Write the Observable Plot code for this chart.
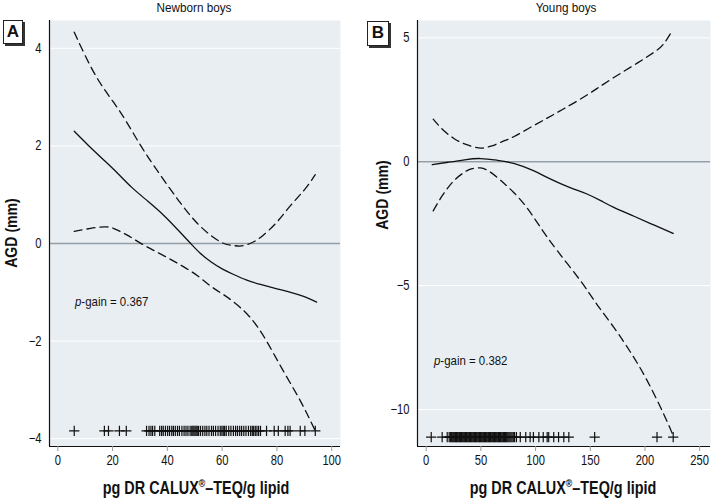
<!DOCTYPE html>
<html><head><meta charset="utf-8">
<script src="https://cdn.jsdelivr.net/npm/d3@7"></script>
<script src="https://cdn.jsdelivr.net/npm/@observablehq/plot@0.6"></script>
<style>
body{margin:0;background:#fff;}
#wrap{position:relative;width:715px;height:502px;font-family:"Liberation Sans",Arial,sans-serif;color:#111;}
.abs{position:absolute;white-space:nowrap;line-height:1;}
.ttl{font-size:13px;transform:translateX(-50%) scaleX(0.9);}
.xt{font-size:18px;font-weight:bold;transform:translateX(-50%) scaleX(0.8);}
.yt{font-size:16px;font-weight:bold;transform:translate(-50%,-50%) rotate(-90deg) scaleX(0.88);}
.pg{font-size:13px;transform:scaleX(0.88);transform-origin:left center;}
.box{position:absolute;background:#fff;border:1px solid #222;box-shadow:2px 2px 0 #333;font-family:"Liberation Sans",Arial,sans-serif;font-weight:bold;font-size:17px;text-align:center;line-height:22px;}
svg{position:absolute;top:0;}
</style></head>
<body><div id="wrap"></div>
<script>
// Panel A: Newborn boys
const fitAx = [6,11,17,22,27,33,39,44,48.5,52,56,60,64,69,74,80,85,90,94.5];
const fitAy = [2.30,2.02,1.70,1.43,1.15,0.86,0.56,0.27,0,-0.20,-0.38,-0.52,-0.63,-0.75,-0.84,-0.93,-1.00,-1.09,-1.20];
const upAx = [6,10,15,20.4,25,30,35,41,46,51,56,60.6,64,67,71,75,80,85,90,94];
const upAy = [4.33,3.85,3.33,2.89,2.50,2.03,1.60,1.12,0.74,0.41,0.16,0.0,-0.04,-0.05,0.02,0.17,0.44,0.78,1.10,1.41];
const loAx = [6,12,18,22,26,31,36,41,46,51,56,60,64,70,76,82,88.5,94];
const loAy = [0.25,0.31,0.34,0.27,0.15,-0.02,-0.17,-0.32,-0.48,-0.66,-0.88,-1.03,-1.19,-1.50,-1.98,-2.58,-3.22,-3.84];
const rugA = [6,17,18.5,22.5,25,32.4,33.3,34.0,34.6,35.4,37.2,37.9,38.5,39.3,40.1,40.8,41.6,42.2,42.9,43.7,44.4,45.3,46.1,46.8,47.5,48.3,48.9,49.3,49.7,50.1,50.5,50.9,51.4,52.1,52.9,53.7,54.4,55.2,56.1,56.8,57.6,58.5,59.3,59.9,60.4,60.9,61.5,62.4,63.2,64.1,64.9,65.6,66.4,67.1,67.9,68.7,69.6,70.4,71.0,71.5,72.1,72.7,73.3,74,76.2,79,80.5,83,84,84.8,88.5,90.2,94];
const rugAy = -3.84;
const ticksAx = [0,20,40,60,80,100];
const ticksAy = [-4,-2,0,2,4];

// Panel B: Young boys
const fitBx = [5.5,20,35,49.6,65,80,98,110,122.8,135,147,160,171.5,190,208,225.8];
const fitBy = [-0.12,-0.02,0.08,0.13,0.06,-0.07,-0.36,-0.62,-0.88,-1.10,-1.30,-1.58,-1.84,-2.2,-2.55,-2.89];
const upBx = [6.4,15,25,35,45,51.2,60,70,80,95,110.6,125,141,156,171.5,190,208,217,225.4];
const upBy = [1.72,1.30,0.95,0.72,0.58,0.55,0.64,0.82,1.01,1.38,1.76,2.12,2.53,2.95,3.40,3.90,4.41,4.75,5.32];
const loBx = [6.4,15,25,35,42,49.6,58,68,80,92,104.5,120,141,156,171.5,187,202,217,225.8];
const loBy = [-1.98,-1.35,-0.78,-0.42,-0.28,-0.25,-0.40,-0.75,-1.24,-1.85,-2.65,-3.6,-4.8,-5.75,-6.68,-7.7,-8.83,-10.17,-11.05];
const rugB = [4.6,14.6,19.2,21.0,22.1,23.0,23.8,24.6,25.3,26.1,26.9,27.6,28.4,29.1,29.9,30.6,31.4,32.2,32.9,33.7,34.4,35.2,35.9,36.7,37.5,38.2,39.0,39.7,40.5,41.2,42.0,42.8,43.5,44.3,45.0,45.8,46.5,47.3,48.1,48.8,49.6,50.3,51.1,51.8,52.6,53.4,54.1,54.9,55.6,56.4,57.1,57.9,58.7,59.4,60.2,60.9,61.7,62.4,63.2,64.0,64.7,65.5,66.2,67.0,67.8,68.5,69.3,70.1,70.8,71.6,72.4,73.2,74.0,74.8,75.7,76.6,77.5,78.5,79.6,80.8,82.5,86,91,95,98,103,107,110.6,112,116.6,121,125.8,130.4,154,211,225.8];
const rugBy = -11.11;
const ticksBx = [0,50,100,150,200,250];
const ticksBy = [-10,-5,0,5];

const BG = "#e9eef3";
const FONT = '"Liberation Sans",Arial,sans-serif';

function pts(xs, ys){ return xs.map((x,i)=>({x, y: ys[i]})); }

function panel(o){
  const fit = pts(o.fx,o.fy), up = pts(o.ux,o.uy), lo = pts(o.lx,o.ly);
  const rug = o.rug.map(x=>({x, y:o.rugY}));
  const svg = Plot.plot({
    width: 357, height: 502,
    marginTop: 20, marginBottom: 56, marginLeft: o.ml, marginRight: o.mr,
    style: {fontFamily: FONT, fontSize: "13px", color:"#111", background:"transparent"},
    x: {domain: o.xd, ticks: o.xt},
    y: {domain: o.yd, ticks: o.yt},
    marks: [
      Plot.frame({fill: BG, stroke: null}),
      Plot.gridY(o.yt, {stroke:"white", strokeOpacity:1, strokeWidth:1}),
      Plot.ruleY([0], {stroke:"#939ea6", strokeWidth:1.6}),
      Plot.line(fit, {x:"x", y:"y", stroke:"#111", strokeWidth:1.3, curve:"natural"}),
      Plot.line(up, {x:"x", y:"y", stroke:"#111", strokeWidth:1.3, strokeDasharray:"8,5", curve:"natural"}),
      Plot.line(lo, {x:"x", y:"y", stroke:"#111", strokeWidth:1.3, strokeDasharray:"8,5", curve:"natural"}),
      Plot.dot(rug, {x:"x", y:"y", symbol:"plus", r:3.4, stroke:"#111", strokeWidth:1.2}),
      Plot.ruleY([o.yd[0]], {stroke:"#111", strokeWidth:1.2}),
      Plot.ruleX([o.xd[0]], {stroke:"#111", strokeWidth:1.2}),
      Plot.axisX(o.xt, {tickSize:5, tickPadding:4, stroke:"#999", fontSize:14, label:null, fill:"#111"}),
      Plot.axisY(o.yt, {tickSize:0, tickPadding:8, fontSize:14, label:null, fill:"#111"})
    ]
  });
  // condense tick labels like the original's narrow typeface
  svg.querySelectorAll("text").forEach(t=>{
    const tr = t.getAttribute("transform");
    if (tr) t.setAttribute("transform", tr + " scale(0.8,1)");
  });
  return svg;
}

const wrap = document.getElementById("wrap");
const a = panel({fx:fitAx,fy:fitAy,ux:upAx,uy:upAy,lx:loAx,ly:loAy,rug:rugA,rugY:rugAy,
  xd:[-3.03,103.2], yd:[-4.16,4.57], xt:ticksAx, yt:ticksAy, ml:49, mr:17});
a.style.left = "0px";
const b = panel({fx:fitBx,fy:fitBy,ux:upBx,uy:upBy,lx:loBx,ly:loBy,rug:rugB,rugY:rugBy,
  xd:[-7.95,259.9], yd:[-11.49,5.70], xt:ticksBx, yt:ticksBy, ml:59, mr:5});
b.style.left = "358px";
wrap.appendChild(a); wrap.appendChild(b);

function add(cls, html, left, top){
  const d = document.createElement("div");
  d.className = "abs " + cls; d.innerHTML = html;
  d.style.left = left + "px"; d.style.top = top + "px";
  wrap.appendChild(d); return d;
}
add("ttl","Newborn boys",194,1);
add("ttl","Young boys",566,1);
add("xt","pg DR CALUX<sup style='font-size:11px;line-height:0'>®</sup>–TEQ/g lipid",196,479);
add("xt","pg DR CALUX<sup style='font-size:11px;line-height:0'>®</sup>–TEQ/g lipid",563,479);
add("yt","AGD (mm)",12,233);
add("yt","AGD (mm)",383,195);
add("pg","<i>p</i>-gain = 0.367",75,295);
add("pg","<i>p</i>-gain = 0.382",434,354);
const bA = document.createElement("div"); bA.className="box"; bA.textContent="A";
Object.assign(bA.style,{left:"3px",top:"20px",width:"18px",height:"22px"}); wrap.appendChild(bA);
const bB = document.createElement("div"); bB.className="box"; bB.textContent="B";
Object.assign(bB.style,{left:"367px",top:"21px",width:"20px",height:"23px"}); wrap.appendChild(bB);
</script></body></html>
